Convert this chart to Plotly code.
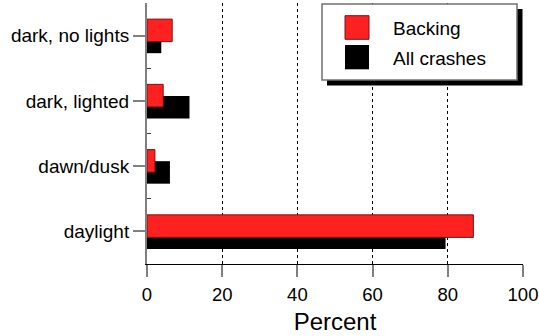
import plotly.graph_objects as go

categories = ["daylight", "dawn/dusk", "dark, lighted", "dark, no lights"]
backing = [86.8, 2.1, 4.3, 6.7]
all_crashes = [79.4, 6.1, 11.3, 3.8]
x_ticks = [0, 20, 40, 60, 80, 100]
series_names = ["Backing", "All crashes"]

pos = list(range(len(categories)))
FONT = "Liberation Sans, Arial, Helvetica, sans-serif"
RED = "#ff2020"

fig = go.Figure()
fig.add_trace(go.Bar(
    y=pos, x=all_crashes, orientation="h", name=series_names[1],
    width=0.345, offset=-0.269,
    marker=dict(color="black", line=dict(width=0)),
    showlegend=False,
))
fig.add_trace(go.Bar(
    y=pos, x=backing, orientation="h", name=series_names[0],
    width=0.345, offset=-0.092,
    marker=dict(color=RED, line=dict(color="#801010", width=1)),
    showlegend=False,
))

fig.update_layout(
    width=539, height=336,
    margin=dict(l=147, r=16, t=3, b=72),
    barmode="overlay",
    plot_bgcolor="white", paper_bgcolor="white",
    font=dict(family=FONT, color="black"),
    showlegend=False,
)
fig.update_xaxes(
    range=[0, 100], tickvals=x_ticks, ticktext=[str(v) for v in x_ticks],
    showgrid=True, gridcolor="black", griddash="dot", gridwidth=1,
    zeroline=False, automargin=False,
    showline=True, linecolor="black", linewidth=1,
    ticks="outside", ticklen=12, tickwidth=2, tickcolor="#808080",
    ticklabelstandoff=2,
    tickfont=dict(size=18.5, family=FONT),
    title=dict(text="Percent", font=dict(size=24, family=FONT), standoff=8),
)
fig.update_yaxes(
    range=[-0.5, 3.5], tickvals=pos, ticktext=categories,
    showgrid=False, zeroline=False, automargin=False,
    showline=True, linecolor="#808080", linewidth=2,
    ticks="outside", ticklen=12, tickwidth=2, tickcolor="#808080",
    tickfont=dict(size=19, family=FONT),
    minor=dict(tickvals=[0.5, 1.5, 2.5], ticks="inside", ticklen=4,
               tickcolor="#404040", tickwidth=1),
)

# custom legend
def px(x):
    return (x - 147) / 376

def py(y):
    return (264 - y) / 261

shapes = [
    dict(type="rect", xref="paper", yref="paper", x0=px(327), x1=px(522.5), y0=py(85.5), y1=py(9),
         fillcolor="black", line=dict(width=0), layer="above"),
    dict(type="rect", xref="paper", yref="paper", x0=px(322), x1=px(517), y0=py(80), y1=py(4),
         fillcolor="white", line=dict(color="#707070", width=1.5), layer="above"),
    dict(type="rect", xref="paper", yref="paper", x0=px(345), x1=px(369), y0=py(39.3), y1=py(15.7),
         fillcolor=RED, line=dict(color="#801010", width=1), layer="above"),
    dict(type="rect", xref="paper", yref="paper", x0=px(345), x1=px(369), y0=py(69.3), y1=py(45),
         fillcolor="black", line=dict(width=0), layer="above"),
]
fig.update_layout(shapes=shapes)
fig.add_annotation(xref="paper", yref="paper", x=px(391), y=py(29), text=series_names[0],
                   showarrow=False, xanchor="left", yanchor="middle",
                   font=dict(size=19, family=FONT, color="black"))
fig.add_annotation(xref="paper", yref="paper", x=px(391), y=py(58), text=series_names[1],
                   showarrow=False, xanchor="left", yanchor="middle",
                   font=dict(size=19, family=FONT, color="black"))

fig.write_html("out.html", config={"displayModeBar": False},
               post_script="document.body.style.margin='0px';document.body.style.overflow='hidden';")
